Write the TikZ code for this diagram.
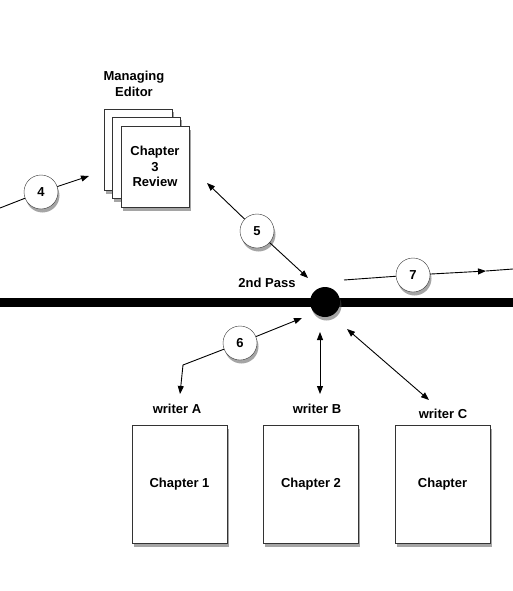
\documentclass[tikz,border=0pt]{standalone}
\usepackage{fontspec}
\setmainfont{Liberation Sans}
\usetikzlibrary{arrows.meta,shadows}

\begin{document}
\begin{tikzpicture}[x=1pt,y=-1pt,
    >={Triangle[length=8pt,width=6pt]},
    txt/.style={font=\fontsize{13}{15.5}\selectfont\bfseries},
    shade/.style={drop shadow={shadow xshift=1.5pt,shadow yshift=-3.5pt,fill=black!70,opacity=.5}},
    page/.style={txt,draw=black!80,fill=white,shade,minimum width=68pt,minimum height=81pt,align=center},
    sheet/.style={txt,draw=black!80,fill=white,shade,minimum width=95pt,minimum height=118pt},
    num/.style={txt,circle,draw=black!80,fill=white,shade,minimum size=34pt,inner sep=0pt}]

  \useasboundingbox (0,0) rectangle (513,591);

  % the pass
  \draw[line width=9pt] (0,302) -- (513,302);
  \node[circle,fill=black,shade,minimum size=30pt,inner sep=0pt] (dot) at (325,302) {};
  \node[txt] (pass) at (267,283) {2nd Pass};

  % managing editor
  \node[txt,align=center] (me) at (134,84) {Managing\\Editor};
  \node[page] (p1) at (138,149.5) {};
  \node[page] (p2) at (146.5,157.5) {};
  \node[page] (rev) at (155,166.5) {Chapter\\3\\Review};

  % writers
  \begin{scope}[every node/.style={txt}]
    \node (wa) at (177,409) {writer A};
    \node (wb) at (317,409) {writer B};
    \node (wc) at (443,414) {writer C};
  \end{scope}
  \node[sheet] (ch1) at (179.5,484) {Chapter 1};
  \node[sheet] (ch2) at (311,484)   {Chapter 2};
  \node[sheet] (ch3) at (442.5,484) {Chapter};

  % arrow ends
  \coordinate (a4) at (0,208);
  \coordinate (b4) at (89,176);
  \coordinate (a5) at (207,183);
  \coordinate (b5) at (308,278);
  \coordinate (b6) at (302,318);
  \coordinate (k6) at (183,365);
  \coordinate (a6) at (180,394);
  \coordinate (a7) at (344,280);
  \coordinate (m7) at (486,271);
  \coordinate (e7) at (513,269);
  \coordinate (tb) at (320,332);
  \coordinate (ub) at (320,394);
  \coordinate (tc) at (347,329);
  \coordinate (uc) at (429,400);

  \node[num] (n4) at (41,192)  {4};
  \node[num] (n5) at (257,231) {5};
  \node[num] (n6) at (240,343) {6};
  \node[num] (n7) at (413,275) {7};

  \begin{scope}[line width=.9pt]
    \draw      (a4) -- (n4);
    \draw[->]  (n4) -- (b4);
    \draw[->]  (n5) -- (a5);
    \draw[->]  (n5) -- (b5);
    \draw[->]  (n6) -- (b6);
    \draw[->]  (n6) -- (k6) -- (a6);
    \draw      (a7) -- (n7);
    \draw[->]  (n7) -- (m7);
    \draw      (m7) -- (e7);
    \draw[<->] (tb) -- (ub);
    \draw[<->] (tc) -- (uc);
  \end{scope}

\end{tikzpicture}
\end{document}
